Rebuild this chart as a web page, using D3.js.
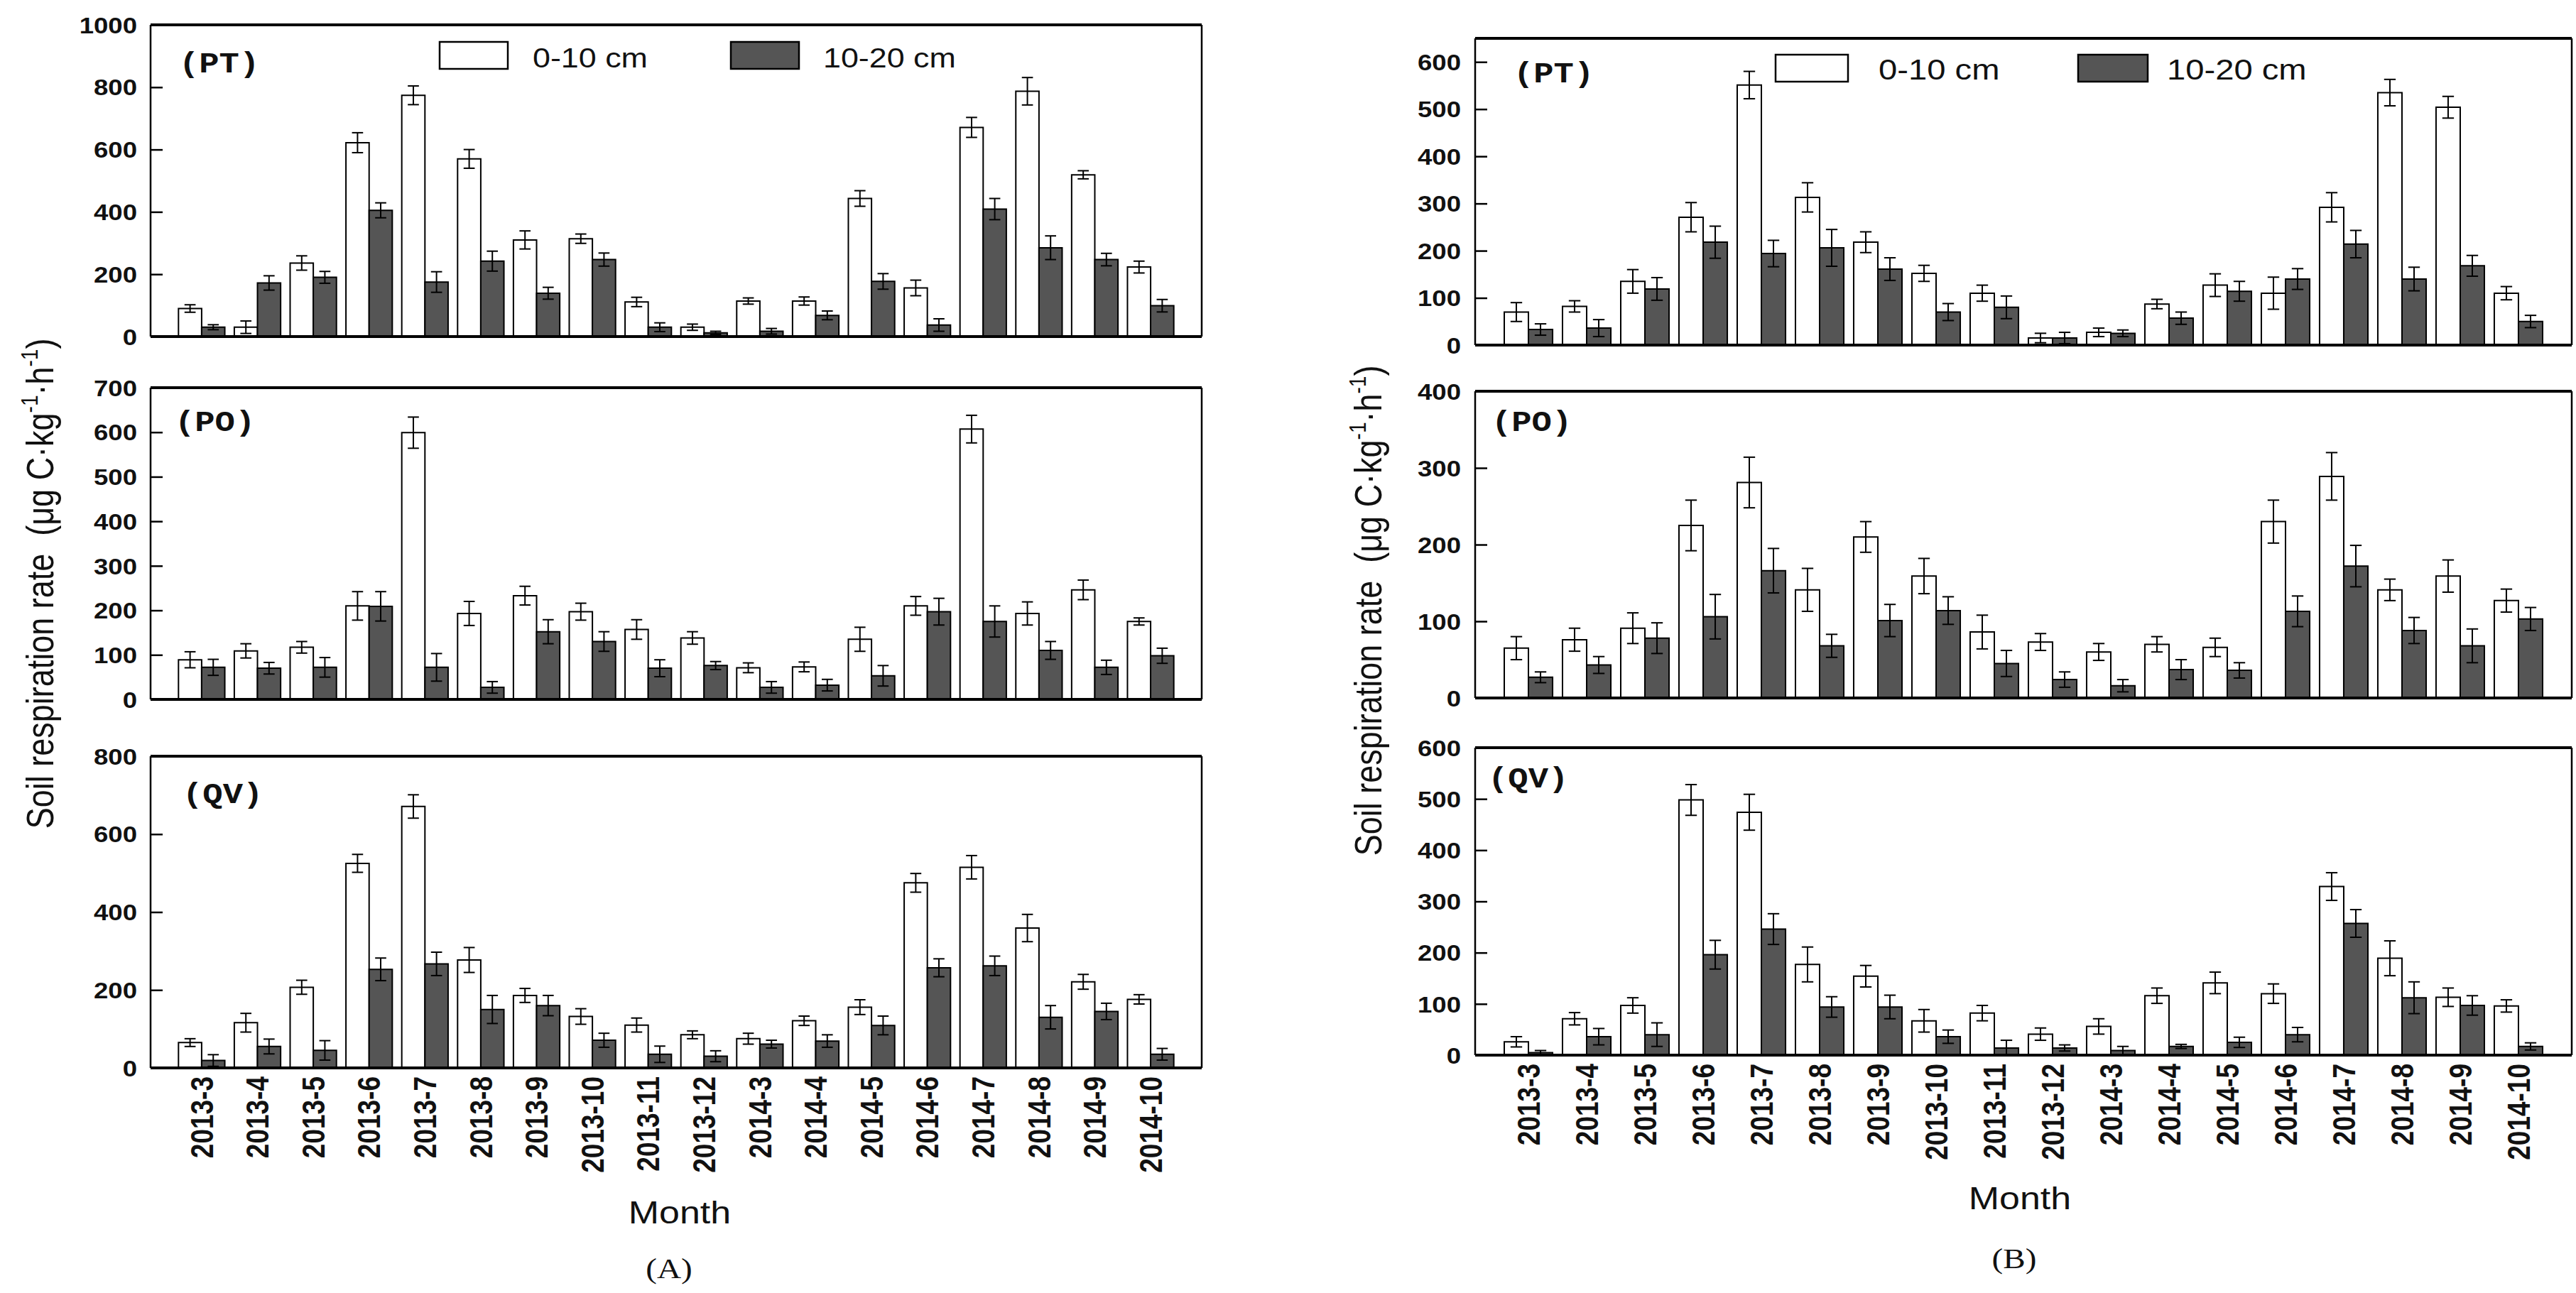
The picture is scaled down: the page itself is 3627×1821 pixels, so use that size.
<!DOCTYPE html>
<html><head><meta charset="utf-8">
<script src="https://cdn.jsdelivr.net/npm/d3@7"></script>
<style>html,body{margin:0;padding:0;background:#fff;overflow:hidden}</style>
</head><body>
<svg id="chart"></svg>
<script>
// ---------- DATA ----------
const months = ["2013-3","2013-4","2013-5","2013-6","2013-7","2013-8","2013-9","2013-10","2013-11","2013-12","2014-3","2014-4","2014-5","2014-6","2014-7","2014-8","2014-9","2014-10"];
const depths = ["0-10 cm","10-20 cm"];
const sites = ["PT","PO","QV"];

// Figure (A)
const A_PT_0_10    = [90,30,236,622,774,570,310,314,111,30,114,114,443,156,671,787,519,223];
const A_PT_0_10_se = [12,20,23,32,30,30,29,15,15,10,10,13,25,25,32,44,13,19];
const A_PT_10_20    = [30,172,190,405,175,242,139,247,30,12,17,68,177,37,409,285,247,99];
const A_PT_10_20_se = [8,23,19,24,33,32,19,21,14,5,9,14,25,20,34,38,20,20];

const A_PO_0_10    = [89,109,117,210,599,193,233,197,157,138,71,73,135,210,607,193,246,175];
const A_PO_0_10_se = [18,16,13,32,35,27,21,19,22,14,11,11,27,21,31,26,22,8];
const A_PO_10_20    = [72,70,72,209,72,27,152,130,70,76,27,32,53,197,175,110,72,98];
const A_PO_10_20_se = [18,13,22,33,31,13,27,22,19,9,13,13,23,30,35,20,16,17];

const A_QV_0_10    = [65,116,207,525,671,277,186,132,110,85,75,121,156,475,515,359,221,176];
const A_QV_0_10_se = [10,24,18,23,30,32,18,20,18,10,14,12,19,24,30,35,19,12];
const A_QV_10_20    = [19,55,45,253,267,150,160,71,35,30,61,69,109,257,262,130,145,35];
const A_QV_10_20_se = [15,19,25,29,30,36,26,18,21,14,10,16,24,23,25,30,21,15];

// Figure (B)
const B_PT_0_10    = [70,82,135,271,551,313,218,152,110,15,27,87,127,110,292,535,504,110];
const B_PT_0_10_se = [20,12,25,31,29,31,22,17,17,10,9,10,24,34,31,28,23,14];
const B_PT_10_20    = [33,36,119,218,194,206,161,70,80,15,25,57,114,140,214,140,168,50];
const B_PT_10_20_se = [12,18,24,34,28,39,24,18,24,12,7,13,21,22,29,25,22,13];

const B_PO_0_10    = [65,76,91,225,281,141,210,159,86,73,60,70,66,230,289,141,159,127];
const B_PO_0_10_se = [15,15,20,33,33,28,20,23,22,11,11,10,12,28,31,14,21,15];
const B_PO_10_20    = [27,43,78,106,166,68,101,114,45,24,16,37,36,113,172,88,68,103];
const B_PO_10_20_se = [7,11,20,29,29,15,21,18,17,10,8,13,10,20,27,17,22,15];

const B_QV_0_10    = [26,71,97,498,474,177,154,67,82,41,56,116,141,120,329,189,113,96];
const B_QV_0_10_se = [10,12,15,30,35,34,21,22,15,12,15,15,21,19,27,34,18,12];
const B_QV_10_20    = [5,36,40,196,246,94,94,36,14,14,9,17,25,40,257,112,97,17];
const B_QV_10_20_se = [4,16,23,28,30,20,23,13,15,6,8,4,10,14,27,31,19,7];

// Axis domains and tick labels
const A_yMax = [1000, 700, 800];
const A_yTicks = [[0,200,400,600,800,1000],[0,100,200,300,400,500,600,700],[0,200,400,600,800]];
const B_yMax = [650, 400, 600];
const B_yTicks = [[0,100,200,300,400,500,600],[0,100,200,300,400],[0,100,200,300,400,500,600]];

const yTitle = ["Soil respiration rate\u00a0\u00a0(\u03bcg C\u00b7kg", "-1", "\u00b7h", "-1", ")"];
const xTitle = "Month";

// ---------- LAYOUT ----------
const W = 3627, H = 1821, S = 1.18;   // picture is stretched horizontally
const u = v => v / S;
const svg = d3.select("#chart")
  .attr("width", W).attr("height", H)
  .attr("viewBox", `0 0 ${W / S} ${H}`)
  .attr("preserveAspectRatio", "none");

const figs = [
  { tag: "(A)", frame: [212, 1692], rows: [[35,474],[546,985],[1065,1504]],
    yMax: A_yMax, yTicks: A_yTicks,
    data: [[A_PT_0_10, A_PT_0_10_se, A_PT_10_20, A_PT_10_20_se],
           [A_PO_0_10, A_PO_0_10_se, A_PO_10_20, A_PO_10_20_se],
           [A_QV_0_10, A_QV_0_10_se, A_QV_10_20, A_QV_10_20_se]],
    siteLab: [[252,102],[246,607],[257,1131]],
    tickRight: 193, titleBase: 75, titleY: 822,
    legend: { y: 59, h: 38, box1: [619, 96], text1: 750, box2: [1029, 96], text2: 1159, base: 95, fs: 38 },
    month: [957, 1723], letter: [942, 1800] },
  { tag: "(B)", frame: [2077, 3621], rows: [[54,486],[551,983],[1053,1486]],
    yMax: B_yMax, yTicks: B_yTicks,
    data: [[B_PT_0_10, B_PT_0_10_se, B_PT_10_20, B_PT_10_20_se],
           [B_PO_0_10, B_PO_0_10_se, B_PO_10_20, B_PO_10_20_se],
           [B_QV_0_10, B_QV_0_10_se, B_QV_10_20, B_QV_10_20_se]],
    siteLab: [[2131,116],[2100,607],[2095,1109]],
    tickRight: 2057, titleBase: 1945, titleY: 860,
    legend: { y: 77, h: 38, box1: [2500, 102], text1: 2645, box2: [2926, 98], text2: 3051, base: 112, fs: 40 },
    month: [2844, 1703], letter: [2836, 1786] }
];

const DARK = "#555555";
const SANS = "'Liberation Sans', Arial, sans-serif";

figs.forEach(fig => {
  const g = svg.append("g");
  const x = d3.scaleBand().domain(months)
    .range([u(fig.frame[0]), u(fig.frame[1])]).paddingInner(0.17).paddingOuter(0.5);
  const xs = d3.scaleBand().domain(depths).range([0, x.bandwidth()]);

  fig.rows.forEach((row, ri) => {
    const [yTop, yBot] = row;
    const y = d3.scaleLinear().domain([0, fig.yMax[ri]]).range([yBot, yTop]);
    const [w, wse, d, dse] = fig.data[ri];
    const rg = g.append("g");

    const series = [
      { key: depths[0], vals: w, se: wse, fill: "#fff" },
      { key: depths[1], vals: d, se: dse, fill: DARK }
    ];
    series.forEach(s => {
      const pts = months.map((m, i) => ({ m, v: s.vals[i], e: s.se[i] }));
      rg.append("g").selectAll("rect").data(pts).join("rect")
        .attr("x", p => x(p.m) + xs(s.key))
        .attr("y", p => y(p.v))
        .attr("width", xs.bandwidth())
        .attr("height", p => y(0) - y(p.v))
        .attr("fill", s.fill).attr("stroke", "#000").attr("stroke-width", 2)
        .attr("vector-effect", "non-scaling-stroke");
      const eg = rg.append("g").selectAll("g").data(pts).join("g")
        .attr("stroke", "#000").attr("stroke-width", 2);
      const cx = p => x(p.m) + xs(s.key) + xs.bandwidth() / 2;
      const cw = xs.bandwidth() * 0.24;
      eg.append("line").attr("x1", cx).attr("x2", cx)
        .attr("y1", p => y(p.v + p.e)).attr("y2", p => y(Math.max(0, p.v - p.e)))
        .attr("vector-effect", "non-scaling-stroke");
      eg.append("line").attr("x1", p => cx(p) - cw).attr("x2", p => cx(p) + cw)
        .attr("y1", p => y(p.v + p.e)).attr("y2", p => y(p.v + p.e))
        .attr("vector-effect", "non-scaling-stroke");
      eg.append("line").attr("x1", p => cx(p) - cw).attr("x2", p => cx(p) + cw)
        .attr("y1", p => y(Math.max(0, p.v - p.e))).attr("y2", p => y(Math.max(0, p.v - p.e)))
        .attr("vector-effect", "non-scaling-stroke");
    });

    // y axis (inward ticks)
    const ax = rg.append("g")
      .attr("transform", `translate(${u(fig.frame[0])},0)`)
      .call(d3.axisLeft(y).tickValues(fig.yTicks[ri]).tickSize(-u(17))
        .tickPadding(u(fig.frame[0] - fig.tickRight)).tickFormat(d3.format("d")));
    ax.select(".domain").remove();
    ax.selectAll(".tick line").attr("stroke", "#000").attr("stroke-width", 2.5)
      .attr("vector-effect", "non-scaling-stroke");
    ax.selectAll(".tick text").attr("font-family", SANS).attr("font-size", 31)
      .attr("font-weight", "bold").attr("fill", "#111").attr("dy", "0.36em");

    // frame
    const fx0 = u(fig.frame[0]), fx1 = u(fig.frame[1]);
    rg.append("line").attr("x1", fx0).attr("x2", fx1).attr("y1", yTop).attr("y2", yTop)
      .attr("stroke", "#000").attr("stroke-width", 4).attr("vector-effect", "non-scaling-stroke");
    rg.append("line").attr("x1", fx0).attr("x2", fx1).attr("y1", yBot).attr("y2", yBot)
      .attr("stroke", "#000").attr("stroke-width", 4).attr("vector-effect", "non-scaling-stroke");
    [fx0, fx1].forEach(fx => rg.append("line").attr("x1", fx).attr("x2", fx)
      .attr("y1", yTop).attr("y2", yBot).attr("stroke", "#000").attr("stroke-width", 2.5)
      .attr("vector-effect", "non-scaling-stroke"));

    // site label
    rg.append("text").attr("x", u(fig.siteLab[ri][0])).attr("y", fig.siteLab[ri][1])
      .attr("font-family", "'Liberation Mono', 'Courier New', monospace")
      .attr("font-weight", "bold").attr("font-size", 40).attr("fill", "#111")
      .text("(" + sites[ri] + ")");

    // x axis on bottom row
    if (ri === 2) {
      const xa = rg.append("g").attr("transform", `translate(0,${yBot})`)
        .call(d3.axisBottom(x).tickSize(0));
      xa.select(".domain").remove();
      xa.selectAll(".tick text")
        .attr("transform", "rotate(-90)")
        .attr("x", -12).attr("y", 0).attr("dy", "0.36em")
        .attr("text-anchor", "end")
        .attr("font-family", SANS).attr("font-size", 37).attr("font-weight", "bold")
        .attr("fill", "#111");
    }
  });

  // legend
  const L = fig.legend;
  g.append("rect").attr("x", u(L.box1[0])).attr("y", L.y).attr("width", u(L.box1[1])).attr("height", L.h)
    .attr("fill", "#fff").attr("stroke", "#000").attr("stroke-width", 2.5).attr("vector-effect", "non-scaling-stroke");
  g.append("rect").attr("x", u(L.box2[0])).attr("y", L.y).attr("width", u(L.box2[1])).attr("height", L.h)
    .attr("fill", DARK).attr("stroke", "#000").attr("stroke-width", 2.5).attr("vector-effect", "non-scaling-stroke");
  g.append("text").attr("x", u(L.text1)).attr("y", L.base).attr("font-family", SANS)
    .attr("font-size", L.fs).attr("fill", "#111").text(depths[0]);
  g.append("text").attr("x", u(L.text2)).attr("y", L.base).attr("font-family", SANS)
    .attr("font-size", L.fs).attr("fill", "#111").text(depths[1]);

  // y title
  const t = g.append("text")
    .attr("transform", `translate(${u(fig.titleBase)},${fig.titleY}) rotate(-90)`)
    .attr("text-anchor", "middle").attr("font-family", SANS).attr("font-size", 45).attr("fill", "#111");
  t.append("tspan").text(yTitle[0]);
  t.append("tspan").attr("font-size", 28).attr("dy", -19).text(yTitle[1]);
  t.append("tspan").attr("dy", 19).text(yTitle[2]);
  t.append("tspan").attr("font-size", 28).attr("dy", -19).text(yTitle[3]);
  t.append("tspan").attr("dy", 19).text(yTitle[4]);

  // x title & panel letter
  g.append("text").attr("x", u(fig.month[0])).attr("y", fig.month[1]).attr("text-anchor", "middle")
    .attr("font-family", SANS).attr("font-size", 44).attr("fill", "#111").text(xTitle);
  g.append("text").attr("x", u(fig.letter[0])).attr("y", fig.letter[1]).attr("text-anchor", "middle")
    .attr("font-family", "'Liberation Serif', 'Times New Roman', serif").attr("font-size", 40)
    .attr("fill", "#111").text(fig.tag);
});
</script>
</body></html>
